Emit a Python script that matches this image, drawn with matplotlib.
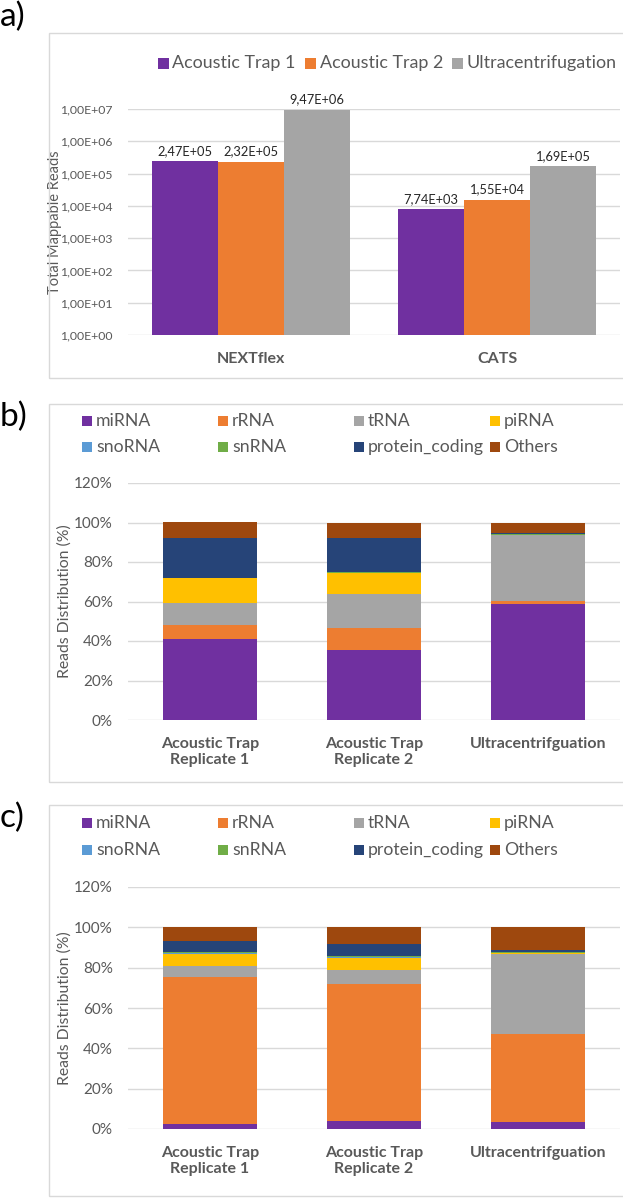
import numpy as np
import matplotlib.pyplot as plt
from matplotlib.patches import Rectangle

plt.rcParams['font.family'] = ['Lato', 'DejaVu Sans']

W, H = 623, 1199

# panel a: total mappable reads
libraries = ["NEXTflex", "CATS"]
methods = ["Acoustic Trap 1", "Acoustic Trap 2", "Ultracentrifugation"]
reads_at1 = [2.47e5, 7.74e3]
reads_at2 = [2.32e5, 1.55e4]
reads_uc = [9.47e6, 1.69e5]

# panels b and c: reads distribution (%)
samples = ["Acoustic Trap\nReplicate 1", "Acoustic Trap\nReplicate 2", "Ultracentrifguation"]
rna_types = ["miRNA", "rRNA", "tRNA", "piRNA", "snoRNA", "snRNA", "protein_coding", "Others"]

b_mirna = [40.8, 35.6, 58.7]
b_rrna = [7.1, 11.1, 1.7]
b_trna = [11.3, 17.2, 33.2]
b_pirna = [12.5, 10.6, 0.2]
b_snorna = [0.1, 0.1, 0.1]
b_snrna = [0.2, 0.2, 0.1]
b_protein = [20.2, 17.4, 0.6]
b_others = [7.8, 7.8, 5.4]

c_mirna = [2.7, 4.0, 3.3]
c_rrna = [72.9, 68.1, 43.9]
c_trna = [5.3, 6.6, 39.5]
c_pirna = [6.1, 6.3, 0.7]
c_snorna = [0.1, 0.1, 0.1]
c_snrna = [0.7, 0.6, 0.1]
c_protein = [5.5, 6.0, 1.4]
c_others = [6.7, 8.3, 11.0]

method_colors = ["#7030A0", "#ED7D31", "#A5A5A5"]
rna_colors = ["#7030A0", "#ED7D31", "#A5A5A5", "#FFC000",
              "#5B9BD5", "#70AD47", "#264478", "#9E480E"]
txt = "#595959"
grid = "#d9d9d9"


def fx(px):
    return px / W


def fy(py):
    return 1 - py / H


def sci(v):
    e = int(np.floor(np.log10(v)))
    m = v / 10**e
    return f"{m:.2f}".replace(".", ",") + f"E+{e:02d}"


def make_ax(left, top, right, bottom):
    ax = fig.add_axes([fx(left), fy(bottom), (right - left) / W, (bottom - top) / H])
    for s in ax.spines.values():
        s.set_visible(False)
    ax.set_axisbelow(True)
    ax.yaxis.grid(True, color=grid, lw=1)
    ax.tick_params(length=0, colors=txt)
    return ax


def frame(top, bottom):
    fig.patches.append(Rectangle((fx(49), fy(bottom)), fx(W + 5) - fx(49), (bottom - top) / H,
                                 transform=fig.transFigure, fill=False, ec=grid, lw=1))


def square_legend(x, y, color, label, size, fs):
    fig.patches.append(Rectangle((fx(x - size / 2), fy(y + size / 2)), size / W, size / H,
                                 transform=fig.transFigure, fc=color, ec="none"))
    fig.text(fx(x + size / 2 + 4), fy(y), label, fontsize=fs, color=txt, va="center", ha="left")


fig = plt.figure(figsize=(W / 100, H / 100), dpi=100)

# ---------- a) ----------
frame(33, 378)
fig.text(fx(0), fy(2), "a)", fontsize=24, va="top", ha="left", color="black")
ax = make_ax(128, 109, 620, 335)
x = np.arange(len(libraries))
bw = 0.268
for i, (vals, col) in enumerate(zip([reads_at1, reads_at2, reads_uc], method_colors)):
    bars = ax.bar(x + (i - 1) * bw, vals, bw, color=col, lw=0, log=True)
    for b, v in zip(bars, vals):
        ax.annotate(sci(v), (b.get_x() + b.get_width() / 2, v), xytext=(0, 3),
                    textcoords="offset points", ha="center", va="bottom",
                    fontsize=9.3, color="#262626")
ax.set_yscale("log")
ax.set_ylim(1, 1e7)
ax.set_xlim(-0.5, 1.5)
ticks = [10.0**k for k in range(8)]
ax.set_yticks(ticks)
ax.set_yticklabels([sci(t) for t in ticks], fontsize=8.8)
ax.minorticks_off()
ax.set_xticks(x)
ax.set_xticklabels(libraries, fontsize=11.5, fontweight="bold", color=txt)
ax.tick_params(axis="y", pad=11)
ax.tick_params(axis="x", pad=12)
ax.set_ylabel("Total Mappable Reads", fontsize=10.5, color=txt)
ax.yaxis.set_label_coords((62 - 128) / 492, 0.5)
for xs, col, lab in zip([163, 310, 457], method_colors, methods):
    square_legend(xs, 63, col, lab, 11, 12.9)

# ---------- b) and c) ----------
panels = [
    ("b)", 404, 782, 483, 720, 421, 447,
     [b_mirna, b_rrna, b_trna, b_pirna, b_snorna, b_snrna, b_protein, b_others]),
    ("c)", 805, 1196, 887, 1129, 823, 850,
     [c_mirna, c_rrna, c_trna, c_pirna, c_snorna, c_snrna, c_protein, c_others]),
]
for letter, ftop, fbot, atop, abot, r1, r2, series in panels:
    frame(ftop, fbot)
    fig.text(fx(0), fy(ftop - 2), letter, fontsize=24, va="top", ha="left", color="black")
    ax = make_ax(128, atop, 620, abot)
    xs = np.arange(len(samples))
    bottom = np.zeros(len(samples))
    for vals, col in zip(series, rna_colors):
        ax.bar(xs, vals, 0.573, bottom=bottom, color=col, lw=0)
        bottom += np.array(vals)
    ax.set_xlim(-0.5, 2.5)
    ax.set_ylim(0, 120)
    yt = list(range(0, 121, 20))
    ax.set_yticks(yt)
    ax.set_yticklabels([f"{t}%" for t in yt], fontsize=11)
    ax.tick_params(axis="y", pad=11)
    ax.tick_params(axis="x", pad=12)
    ax.set_xticks(xs)
    ax.set_xticklabels(samples, fontsize=11.5, fontweight="bold", color=txt, linespacing=1.2)
    ax.set_ylabel("Reads Distribution (%)", fontsize=11.3, color=txt)
    ax.yaxis.set_label_coords((72 - 128) / 492, 0.5)
    for k, (lab, col) in enumerate(zip(rna_types, rna_colors)):
        cx = 87 + 136 * (k % 4)
        cy = r1 if k < 4 else r2
        square_legend(cx, cy, col, lab, 10, 12.7)

fig.savefig("out.png", dpi=100)
